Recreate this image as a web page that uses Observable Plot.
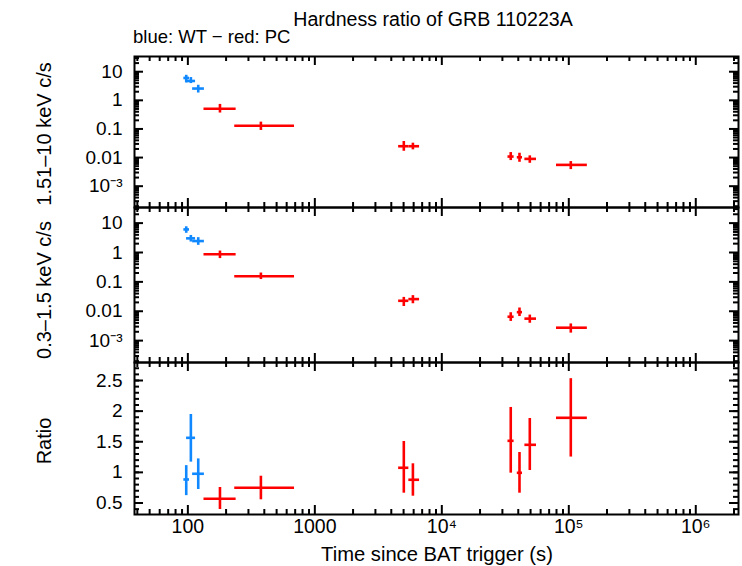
<!DOCTYPE html>
<html><head><meta charset="utf-8">
<script src="https://cdn.jsdelivr.net/npm/d3@7"></script>
<script src="https://cdn.jsdelivr.net/npm/@observablehq/plot@0.6"></script>
<style>
body{margin:0;background:#fff;}
#c{position:relative;width:742px;height:566px;font-family:"Liberation Sans",Arial,sans-serif;color:#000;overflow:hidden;background:#fff}
.t{position:absolute;white-space:nowrap;font-size:19px;line-height:1}
.yl{position:absolute;white-space:nowrap;font-size:19.5px;line-height:1;transform:translate(-50%,-50%) rotate(-90deg)}
.p{position:absolute;left:0}
</style></head><body><div id="c"></div>
<script>
// ---- WT mode (blue) ----
const wtTime   = [97.1, 105.6, 120.7];
const wtTimeLo = [93, 97.7, 109];
const wtTimeHi = [103, 115, 135];
const wtHard   = [6.05, 4.75, 2.58];
const wtHardLo = [4.05, 3.85, 1.8];
const wtHardHi = [7.5, 6.25, 3.36];
const wtSoft   = [6.1, 3.03, 2.45];
const wtSoftLo = [4.5, 2.27, 1.75];
const wtSoftHi = [7.5, 3.8, 3.2];
const wtRatio   = [0.884, 1.564, 0.977];
const wtRatioLo = [0.62, 1.167, 0.72];
const wtRatioHi = [1.11, 1.945, 1.22];
// ---- PC mode (red) ----
const pcTime   = [179, 376, 5020, 5920, 34900, 40900, 49300, 103700];
const pcTimeLo = [134, 234, 4570, 5500, 33200, 39300, 45100, 80000];
const pcTimeHi = [240, 692, 5500, 6680, 37100, 43200, 55700, 140000];
const pcHard   = [0.51, 0.129, 0.0249, 0.0249, 0.01084, 0.01025, 0.009, 0.00555];
const pcHardLo = [0.36, 0.0885, 0.0166, 0.0186, 0.00785, 0.00684, 0.0063, 0.0038];
const pcHardHi = [0.72, 0.173, 0.0364, 0.0318, 0.01496, 0.01416, 0.01148, 0.00724];
const pcSoft   = [0.87, 0.156, 0.0227, 0.0259, 0.0065, 0.0093, 0.0056, 0.00275];
const pcSoftLo = [0.62, 0.12, 0.0145, 0.018, 0.0045, 0.0066, 0.0039, 0.0018];
const pcSoftHi = [1.12, 0.20, 0.0296, 0.034, 0.0089, 0.0129, 0.0074, 0.0037];
const pcRatio   = [0.568, 0.748, 1.075, 0.879, 1.515, 0.993, 1.45, 1.891];
const pcRatioLo = [0.394, 0.552, 0.66, 0.611, 0.987, 0.66, 1.03, 1.25];
const pcRatioHi = [0.753, 0.937, 1.504, 1.14, 2.06, 1.324, 1.88, 2.53];

// ---- axes ----
const xDomain = [38, 2.17e6];
const xMajor = [100, 1000, 1e4, 1e5, 1e6];
const xLabels = ["100", "1000", "10\u2074", "10\u2075", "10\u2076"];
const rateDomain = [1.8e-4, 34];
const rateMajor = [1e-3, 0.01, 0.1, 1, 10];
const rateLabels = ["10\u207B\u00B3", "0.01", "0.1", "1", "10"];
const ratioDomain = [0.312, 2.794];
const ratioMajor = [0.5, 1, 1.5, 2, 2.5];
const ratioLabels = ["0.5", "1", "1.5", "2", "2.5"];

const BLUE = "#1088ff", RED = "#ff0000";
const W = 742, ML = 134, MR = 4;

function rows(t, tlo, thi, v, lo, hi, col) {
  return t.map((d, i) => ({t: d, tlo: tlo[i], thi: thi[i], v: v[i], lo: lo[i], hi: hi[i], col}));
}
function logMinor(domain) {
  const out = [];
  for (let e = -6; e <= 7; e++) for (let k = 2; k <= 9; k++) {
    const v = k * Math.pow(10, e);
    if (v > domain[0] && v < domain[1]) out.push(v);
  }
  return out;
}
function linMinor(domain, step) {
  const out = [];
  for (let v = Math.ceil(domain[0] / step) * step; v < domain[1]; v += step) out.push(+v.toFixed(6));
  return out;
}
const xMinor = logMinor(xDomain);

function panel({data, yType, yDomain, yMajor, yLabels, yMinor, height, mt, mb, showX}) {
  const innerH = height - mt - mb, innerW = W - ML - MR;
  const MAJ = 9, MIN = 5;
  const marks = [
    Plot.ruleY(data, {y: "v", x1: "tlo", x2: "thi", stroke: "col", strokeWidth: 2.6}),
    Plot.ruleX(data, {x: "t", y1: "lo", y2: "hi", stroke: "col", strokeWidth: 2.6}),
    Plot.tickX(xMajor, {x: d => d, insetBottom: innerH - MAJ, strokeWidth: 2}),
    Plot.tickX(xMinor, {x: d => d, insetBottom: innerH - MIN, strokeWidth: 2}),
    Plot.tickX(xMajor, {x: d => d, insetTop: innerH - MAJ, strokeWidth: 2}),
    Plot.tickX(xMinor, {x: d => d, insetTop: innerH - MIN, strokeWidth: 2}),
    Plot.tickY(yMajor, {y: d => d, insetRight: innerW - MAJ, strokeWidth: 2}),
    Plot.tickY(yMinor, {y: d => d, insetRight: innerW - MIN, strokeWidth: 2}),
    Plot.tickY(yMajor, {y: d => d, insetLeft: innerW - MAJ, strokeWidth: 2}),
    Plot.tickY(yMinor, {y: d => d, insetLeft: innerW - MIN, strokeWidth: 2}),
    Plot.axisY(yMajor, {tickSize: 0, tickPadding: 12, tickFormat: (d) => yLabels[yMajor.indexOf(d)], fontSize: 19, label: null}),
    Plot.frame({stroke: "black", strokeWidth: 2})
  ];
  if (showX) marks.push(Plot.axisX(xMajor, {tickSize: 0, tickPadding: 5, tickFormat: d => xLabels[xMajor.indexOf(d)], fontSize: 19.5, label: null}));
  return Plot.plot({
    width: W, height, marginLeft: ML, marginRight: MR, marginTop: mt, marginBottom: mb,
    style: {background: "transparent", fontFamily: "Liberation Sans, Arial, sans-serif", color: "black"},
    x: {type: "log", domain: xDomain, axis: null},
    y: {type: yType, domain: yDomain, axis: null},
    color: {type: "identity"},
    marks
  });
}

const c = document.getElementById("c");
function place(node, top) { node.classList.add("p"); node.style.top = top + "px"; c.appendChild(node); }

const hardRows = rows(wtTime, wtTimeLo, wtTimeHi, wtHard, wtHardLo, wtHardHi, BLUE)
  .concat(rows(pcTime, pcTimeLo, pcTimeHi, pcHard, pcHardLo, pcHardHi, RED));
const softRows = rows(wtTime, wtTimeLo, wtTimeHi, wtSoft, wtSoftLo, wtSoftHi, BLUE)
  .concat(rows(pcTime, pcTimeLo, pcTimeHi, pcSoft, pcSoftLo, pcSoftHi, RED));
const ratioRows = rows(wtTime, wtTimeLo, wtTimeHi, wtRatio, wtRatioLo, wtRatioHi, BLUE)
  .concat(rows(pcTime, pcTimeLo, pcTimeHi, pcRatio, pcRatioLo, pcRatioHi, RED));

place(panel({data: hardRows, yType: "log", yDomain: rateDomain, yMajor: rateMajor, yLabels: rateLabels,
  yMinor: logMinor(rateDomain), height: 155, mt: 2, mb: 2, showX: false}), 54);
place(panel({data: softRows, yType: "log", yDomain: rateDomain, yMajor: rateMajor, yLabels: rateLabels,
  yMinor: logMinor(rateDomain), height: 159, mt: 2, mb: 2, showX: false}), 205);
place(panel({data: ratioRows, yType: "linear", yDomain: ratioDomain, yMajor: ratioMajor, yLabels: ratioLabels,
  yMinor: linMinor(ratioDomain, 0.1), height: 204, mt: 2, mb: 50, showX: true}), 360);

function text(str, cls, x, y, extra) {
  const d = document.createElement("div");
  d.className = cls; d.textContent = str;
  d.style.left = x + "px"; d.style.top = y + "px";
  if (extra) Object.assign(d.style, extra);
  c.appendChild(d);
  return d;
}
text("Hardness ratio of GRB 110223A", "t", 433, 10, {transform: "translateX(-50%)", fontSize: "19.6px"});
text("blue: WT \u2212 red: PC", "t", 133, 28, {fontSize: "18.5px"});
text("1.51\u201310 keV c/s", "yl", 44, 134, {fontSize: "20px"});
text("0.3\u20131.5 keV c/s", "yl", 44, 290, {fontSize: "20px"});
text("Ratio", "yl", 44, 441, {fontSize: "20px"});
text("Time since BAT trigger (s)", "t", 437, 544, {transform: "translateX(-50%)", fontSize: "20.2px"});
</script></body></html>
